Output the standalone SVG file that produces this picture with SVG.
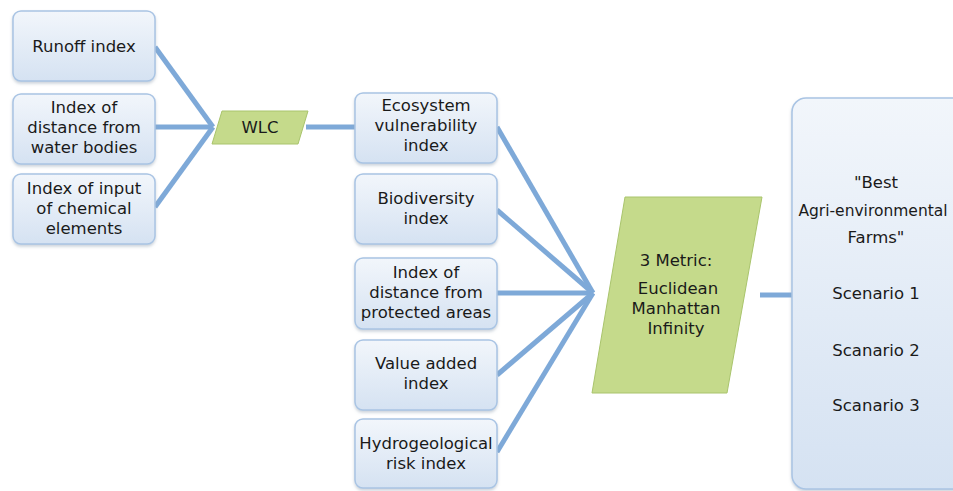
<svg xmlns="http://www.w3.org/2000/svg" width="953" height="491" viewBox="0 0 953 491">
<defs>
<linearGradient id="bg" x1="0" y1="0" x2="0" y2="1">
<stop offset="0" stop-color="#f2f6fb"/>
<stop offset="1" stop-color="#d5e2f2"/>
</linearGradient>
<filter id="sh" x="-10%" y="-10%" width="120%" height="130%">
<feDropShadow dx="0" dy="2" stdDeviation="1.5" flood-color="#9aa8b8" flood-opacity="0.5"/>
</filter>
</defs>
<style>
.box{fill:url(#bg);stroke:#a9c4e4;stroke-width:1.5;filter:url(#sh)}
.para{fill:#c5da8b;stroke:#a9c46c;stroke-width:1}
.t{font-family:"DejaVu Sans",Verdana,sans-serif;font-size:16.5px;fill:#1a1a1a;text-anchor:middle}
.c{stroke:#7ea9d8;stroke-width:5;fill:none;stroke-linecap:butt}
</style>
<rect width="953" height="491" fill="#ffffff"/>
<g id="connectors">
<line class="c" x1="155" y1="47" x2="213" y2="127"/>
<line class="c" x1="155" y1="127" x2="213" y2="127"/>
<line class="c" x1="155" y1="207" x2="213" y2="127"/>
<line class="c" x1="306" y1="127" x2="355" y2="127"/>
<line class="c" x1="497" y1="127" x2="593" y2="293"/>
<line class="c" x1="497" y1="210" x2="593" y2="293"/>
<line class="c" x1="497" y1="293" x2="593" y2="293"/>
<line class="c" x1="497" y1="375" x2="593" y2="293"/>
<line class="c" x1="497" y1="452" x2="593" y2="293"/>
<line class="c" x1="760" y1="295" x2="792" y2="295"/>
</g>
<g id="runoff">
<rect class="box" x="13" y="11" width="142" height="70" rx="8"/>
<text class="t" x="84" y="52">Runoff index</text>
</g>
<g id="distance-water">
<rect class="box" x="13" y="94" width="142" height="70" rx="8"/>
<text class="t" x="84" y="113">Index of</text>
<text class="t" x="84" y="133">distance from</text>
<text class="t" x="84" y="153">water bodies</text>
</g>
<g id="chemical">
<rect class="box" x="13" y="174" width="142" height="70" rx="8"/>
<text class="t" x="84" y="194">Index of input</text>
<text class="t" x="84" y="214">of chemical</text>
<text class="t" x="84" y="234">elements</text>
</g>
<g id="wlc">
<polygon class="para" points="222,111 308,111 298,144 212,144"/>
<text class="t" x="260" y="133">WLC</text>
</g>
<g id="ecosystem">
<rect class="box" x="355" y="93" width="142" height="70" rx="8"/>
<text class="t" x="426" y="111">Ecosystem</text>
<text class="t" x="426" y="131">vulnerability</text>
<text class="t" x="426" y="151">index</text>
</g>
<g id="biodiversity">
<rect class="box" x="355" y="174" width="142" height="70" rx="8"/>
<text class="t" x="426" y="204">Biodiversity</text>
<text class="t" x="426" y="224">index</text>
</g>
<g id="distance-protected">
<rect class="box" x="355" y="258" width="142" height="71" rx="8"/>
<text class="t" x="426" y="278">Index of</text>
<text class="t" x="426" y="298">distance from</text>
<text class="t" x="426" y="318">protected areas</text>
</g>
<g id="value-added">
<rect class="box" x="355" y="340" width="142" height="70" rx="8"/>
<text class="t" x="426" y="369">Value added</text>
<text class="t" x="426" y="389">index</text>
</g>
<g id="hydro">
<rect class="box" x="355" y="419" width="142" height="69" rx="8"/>
<text class="t" x="426" y="449">Hydrogeological</text>
<text class="t" x="426" y="469">risk index</text>
</g>
<g id="metric">
<polygon class="para" points="625,197 762,197 727,393 592,393"/>
<text class="t" x="676" y="266">3 Metric:</text>
<text class="t" x="678" y="294">Euclidean</text>
<text class="t" x="676" y="314">Manhattan</text>
<text class="t" x="676" y="334">Infinity</text>
</g>
<g id="result">
<rect class="box" x="792" y="98" width="200" height="391" rx="14"/>
<text class="t" x="876" y="188">"Best</text>
<text class="t" x="873" y="216" style="font-size:15.5px">Agri-environmental</text>
<text class="t" x="876" y="243">Farms"</text>
<text class="t" x="876" y="299">Scenario 1</text>
<text class="t" x="876" y="356">Scanario 2</text>
<text class="t" x="876" y="411">Scanario 3</text>
</g>
</svg>
